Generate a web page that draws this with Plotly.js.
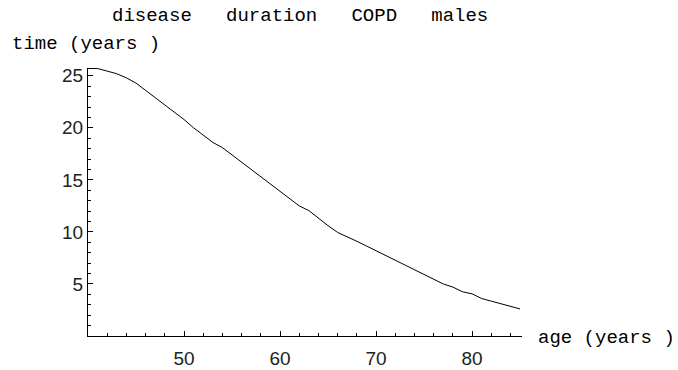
<!DOCTYPE html>
<html>
<head>
<meta charset="utf-8">
<script src="https://cdn.plot.ly/plotly-3.0.1.min.js"></script>
<style>html,body{margin:0;padding:0;background:#fff;}#chart{width:678px;height:370px;}</style>
</head>
<body>
<div id="chart"></div>
<script>
const ages = [40,41,42,43,44,45,46,47,48,49,50,51,52,53,54,55,56,57,58,59,60,61,62,63,64,65,66,67,68,69,70,71,72,73,74,75,76,77,78,79,80,81,82,83,84,85];
const durationYears = [25.7,25.7,25.45,25.2,24.8,24.3,23.6,22.9,22.2,21.5,20.8,20.0,19.3,18.6,18.1,17.4,16.7,16.0,15.3,14.6,13.9,13.2,12.5,12.05,11.3,10.6,9.95,9.55,9.1,8.65,8.2,7.75,7.3,6.85,6.4,5.9,5.45,5.0,4.7,4.25,4.05,3.6,3.35,3.1,2.85,2.6];
const xTickVals = [50,60,70,80];
const yTickVals = [5,10,15,20,25];
const titleText = "disease   duration   COPD   males";
const yLabel = "time (years )";
const xLabel = "age (years )";

const mono = "Liberation Mono, Courier New, monospace";
const sans = "Liberation Sans, Arial, sans-serif";

const L = 88, T = 68, W = 434, H = 268;

const trace = {
  x: ages, y: durationYears, type: 'scatter', mode: 'lines',
  line: {color: '#000', width: 1}, hoverinfo: 'skip'
};

const layout = {
  width: 678, height: 370,
  margin: {l: L, t: T, r: 678 - L - W, b: 370 - T - H},
  paper_bgcolor: '#fff', plot_bgcolor: '#fff',
  showlegend: false,
  title: {text: titleText, font: {family: mono, size: 19, color: '#000'},
          xref: 'container', yref: 'container', x: 112/678, xanchor: 'left', y: 1 - 14/370, yanchor: 'middle'},
  xaxis: {
    range: [40, 85.2], showgrid: false, zeroline: false,
    showline: true, linecolor: '#000', linewidth: 1,
    tickmode: 'array', tickvals: xTickVals, ticks: 'inside', ticklen: 5, tickcolor: '#000', tickwidth: 1,
    minor: {dtick: 2, tick0: 40, ticks: 'inside', ticklen: 3, tickcolor: '#000', tickwidth: 1, showgrid: false},
    tickfont: {family: sans, size: 19, color: '#222'}, ticklabelstandoff: 5
  },
  yaxis: {
    range: [0, 25.75], showgrid: false, zeroline: false,
    showline: true, linecolor: '#000', linewidth: 1,
    tickmode: 'array', tickvals: yTickVals, ticks: 'inside', ticklen: 5, tickcolor: '#000', tickwidth: 1,
    minor: {dtick: 1, tick0: 0, ticks: 'inside', ticklen: 3, tickcolor: '#000', tickwidth: 1, showgrid: false},
    tickfont: {family: sans, size: 19, color: '#222'}, ticklabelstandoff: 0
  },
  annotations: [
    {text: yLabel, xref: 'paper', yref: 'paper', x: (10 - L)/W, y: (T + H - 44)/H,
     xanchor: 'left', yanchor: 'middle', showarrow: false, font: {family: mono, size: 19, color: '#000'}},
    {text: xLabel, xref: 'paper', yref: 'paper', x: (536 - L)/W, y: (T + H - 338)/H,
     xanchor: 'left', yanchor: 'middle', showarrow: false, font: {family: mono, size: 19, color: '#000'}}
  ]
};

Plotly.newPlot('chart', [trace], layout, {staticPlot: true, displayModeBar: false});
</script>
</body>
</html>
